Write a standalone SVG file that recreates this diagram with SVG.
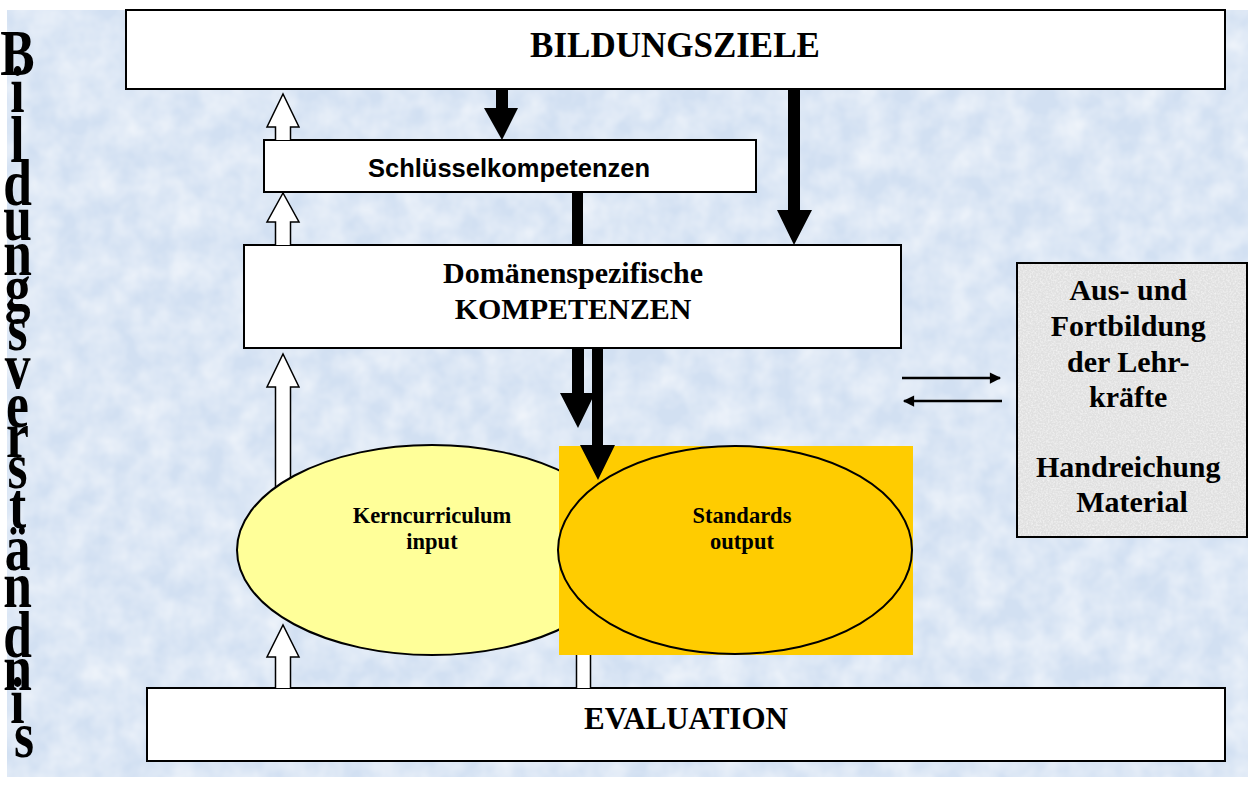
<svg xmlns="http://www.w3.org/2000/svg" width="1252" height="785" viewBox="0 0 1252 785">
<defs>
<style>
.box{fill:#ffffff;stroke:#000;stroke-width:2}
.serif{font-family:"Liberation Serif","Times New Roman",serif;font-weight:bold;fill:#000;text-anchor:middle}
.sans{font-family:"Liberation Sans",Arial,sans-serif;font-weight:bold;fill:#000;text-anchor:middle}
.up{fill:#ffffff;stroke:#000;stroke-width:1.5}
.down{fill:#000;stroke:none}
.thin{stroke:#000;stroke-width:2.5;fill:none}
</style>
<filter id="tex" x="0" y="0" width="100%" height="100%">
<feTurbulence type="fractalNoise" baseFrequency="0.035" numOctaves="3" seed="7"/>
<feColorMatrix type="matrix" values="0 0 0 0 1  0 0 0 0 1  0 0 0 0 1  0 0 0 0.9 -0.22"/>
</filter>
<filter id="tex2" x="0" y="0" width="100%" height="100%">
<feTurbulence type="fractalNoise" baseFrequency="0.6" numOctaves="2" seed="3"/>
<feColorMatrix type="matrix" values="0 0 0 0 1  0 0 0 0 1  0 0 0 0 1  0 0 0 1.2 -0.45"/>
</filter>
<marker id="ah" viewBox="0 0 10 10" refX="9" refY="5" markerWidth="6" markerHeight="4.5" markerUnits="strokeWidth" orient="auto">
<path d="M0,0 L10,5 L0,10 Z" fill="#000"/>
</marker>
</defs>
<rect x="7" y="10" width="1241" height="767" fill="#d2e0f2"/>
<rect x="7" y="10" width="1241" height="767" filter="url(#tex)"/>
<g id="side-label">
<text class="serif" font-size="46" transform="scale(1.12,1.42)">
<tspan x="21.4" y="52.8">B</tspan>
<tspan x="21.4" y="78.9">i</tspan>
<tspan x="21.4" y="114.1">l</tspan>
<tspan x="21.4" y="144.4">d</tspan>
<tspan x="21.4" y="169.0">u</tspan>
<tspan x="21.4" y="193.7">n</tspan>
<tspan x="21.4" y="218.3">g</tspan>
<tspan x="21.4" y="246.5">s</tspan>
<tspan x="21.4" y="273.2">v</tspan>
<tspan x="21.4" y="300.7">e</tspan>
<tspan x="21.4" y="321.8">r</tspan>
<tspan x="21.4" y="343.7">s</tspan>
<tspan x="21.4" y="371.8">t</tspan>
<tspan x="21.4" y="401.4">ä</tspan>
<tspan x="21.4" y="427.5">n</tspan>
<tspan x="21.4" y="462.7">d</tspan>
<tspan x="21.4" y="485.9">n</tspan>
<tspan x="21.4" y="509.2">i</tspan>
<tspan x="21.4" y="533.1">s</tspan>
</text>
</g>
<g id="bildungsziele">
<rect class="box" x="126" y="10" width="1099" height="79"/>
<text class="serif" x="675" y="57" font-size="35">BILDUNGSZIELE</text>
</g>
<g id="schluessel">
<rect class="box" x="264" y="140" width="492" height="52"/>
<text class="sans" x="509" y="177" font-size="25.5">Schlüsselkompetenzen</text>
</g>
<g id="domaenen">
<rect class="box" x="244" y="245" width="657" height="103"/>
<text class="serif" x="573" y="283" font-size="30">Domänenspezifische</text>
<text class="serif" x="573" y="319" font-size="30">KOMPETENZEN</text>
</g>
<g id="evaluation">
<rect class="box" x="147" y="688" width="1078" height="73"/>
<text class="serif" x="686" y="729" font-size="31">EVALUATION</text>
</g>
<g id="fortbildung">
<rect x="1017" y="263" width="230" height="274" fill="#e0e0e0"/>
<rect x="1017" y="263" width="230" height="274" filter="url(#tex2)"/>
<rect x="1017" y="263" width="230" height="274" fill="none" stroke="#000" stroke-width="2"/>
<text class="serif" font-size="30">
<tspan x="1132" y="300">Aus- und</tspan>
<tspan x="1132" y="336">Fortbildung</tspan>
<tspan x="1132" y="372">der Lehr-</tspan>
<tspan x="1132" y="407">kräfte</tspan>
<tspan x="1132" y="477">Handreichung</tspan>
<tspan x="1132" y="512">Material</tspan>
</text>
</g>
<g id="connectors-back">
<path class="up" d="M275.5,140 L275.5,127 L267,127 L283,94 L299,127 L290.5,127 L290.5,140"/>
<path class="up" d="M275.5,245 L275.5,222 L267,222 L283,193 L299,222 L290.5,222 L290.5,245"/>
<path class="up" d="M275.5,490 L275.5,387 L267,387 L283,354 L299,387 L290.5,387 L290.5,490"/>
<path class="up" d="M275.5,688 L275.5,657 L267,657 L283,625 L299,657 L290.5,657 L290.5,688"/>
<path class="up" d="M576.5,688 L576.5,640 L590.5,640 L590.5,688"/>
</g>
<g id="kerncurriculum">
<ellipse cx="432" cy="550" rx="195" ry="105" fill="#ffff99" stroke="#000" stroke-width="2"/>
<text class="serif" x="432" y="523" font-size="22.5">Kerncurriculum</text>
<text class="serif" x="432" y="549" font-size="22.5">input</text>
</g>
<g id="standards">
<rect x="559" y="446" width="354" height="209" fill="#ffcc00"/>
<ellipse cx="735" cy="550" rx="177" ry="104" fill="#ffcc00" stroke="#000" stroke-width="2"/>
<text class="serif" x="742" y="523" font-size="22.5">Standards</text>
<text class="serif" x="742" y="549" font-size="22.5">output</text>
</g>
<g id="connectors">
<path class="down" d="M496,89 L508,89 L508,108 L518,108 L502,140 L484,108 L496,108 Z"/>
<path class="down" d="M788,89 L800,89 L800,210 L812,210 L794,245 L777,210 L788,210 Z"/>
<rect class="down" x="572" y="192" width="11" height="53"/>
<path class="down" d="M572,348 L584,348 L584,393 L595,393 L578,428 L560,393 L572,393 Z"/>
<path class="down" d="M592,348 L603,348 L603,445 L615,445 L598,480 L580,445 L592,445 Z"/>
<line class="thin" x1="902" y1="378" x2="1000" y2="378" marker-end="url(#ah)"/>
<line class="thin" x1="1002" y1="401" x2="904" y2="401" marker-end="url(#ah)"/>
</g>
</svg>
